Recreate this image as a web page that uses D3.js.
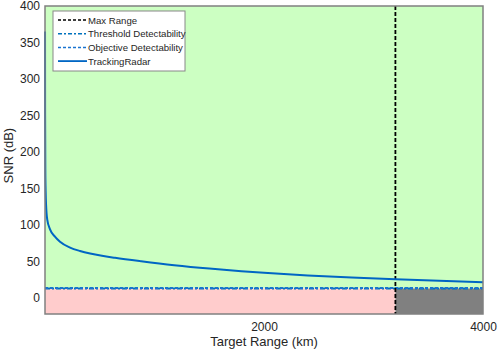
<!DOCTYPE html>
<html>
<head>
<meta charset="utf-8">
<script src="https://cdn.jsdelivr.net/npm/d3@7"></script>
<style>
  body { margin: 0; background: #fff; }
  svg text { font-family: "Liberation Sans", Arial, sans-serif; fill: #262626; }
</style>
</head>
<body>
<div id="chart"></div>
<script>
// values
const rangeKm = [0.2, 1, 3, 6, 10, 21, 46, 91, 137, 229, 320, 412, 520, 640, 878, 1180, 1500, 1794, 2000, 2400, 2800, 3200, 3600, 4000];
const snrDb = [365, 250, 175, 145, 127, 107, 94, 84, 77, 69, 64.3, 60.8, 57.7, 55, 50.3, 44.9, 40.2, 36.6, 34.4, 30.9, 28, 25.6, 23.5, 21.6];
const maxRange = 3200;
const thresholdSnr = 13;
const objectiveSnr = 13.5;
const xTicks = [2000, 4000];
const yTicks = [0, 50, 100, 150, 200, 250, 300, 350, 400];
const legendNames = ["Max Range", "Threshold Detectability", "Objective Detectability", "TrackingRadar"];

const width = 500, height = 351;
const margin = { top: 6, right: 17, bottom: 37, left: 45 };
const w = width - margin.left - margin.right;
const h = height - margin.top - margin.bottom;

const svg = d3.select("#chart")
  .append("svg")
  .attr("width", width)
  .attr("height", height);

const g = svg.append("g")
  .attr("transform", `translate(${margin.left},${margin.top})`);

const x = d3.scaleLinear().domain([0, 4000]).range([0, w]);
const y = d3.scaleLinear().domain([-22, 400]).range([h, 0]);

// background regions
g.append("rect")
  .attr("x", 0).attr("y", 0)
  .attr("width", w).attr("height", y(thresholdSnr))
  .attr("fill", "#ccffc2");
g.append("rect")
  .attr("x", 0).attr("y", y(thresholdSnr))
  .attr("width", x(maxRange)).attr("height", h - y(thresholdSnr))
  .attr("fill", "#ffcccc");
g.append("rect")
  .attr("x", x(maxRange)).attr("y", y(thresholdSnr))
  .attr("width", w - x(maxRange)).attr("height", h - y(thresholdSnr))
  .attr("fill", "#808080");

// horizontal detectability lines
g.append("line")
  .attr("x1", 0).attr("x2", w)
  .attr("y1", y(thresholdSnr)).attr("y2", y(thresholdSnr))
  .attr("stroke", "#0072bd").attr("stroke-width", 2)
  .attr("stroke-dasharray", "5,2,2,2");
g.append("line")
  .attr("x1", 0).attr("x2", w)
  .attr("y1", y(objectiveSnr)).attr("y2", y(objectiveSnr))
  .attr("stroke", "#1a74d0").attr("stroke-width", 2)
  .attr("stroke-dasharray", "3,2");

// max range line
g.append("line")
  .attr("x1", x(maxRange)).attr("x2", x(maxRange))
  .attr("y1", 0).attr("y2", h)
  .attr("stroke", "#000").attr("stroke-width", 1.8)
  .attr("stroke-dasharray", "4,2");

// SNR curve
const pts = rangeKm.map((r, i) => [r, snrDb[i]]);
g.append("path")
  .datum(pts)
  .attr("fill", "none")
  .attr("stroke", "#0066c4")
  .attr("stroke-width", 2)
  .attr("d", d3.line().x(d => x(d[0])).y(d => y(d[1])).curve(d3.curveMonotoneX));

// axes
const xAxis = g.append("g")
  .attr("transform", `translate(0,${h})`)
  .call(d3.axisBottom(x).tickValues(xTicks).tickFormat(d3.format("d")).tickSize(0).tickPadding(8));
const yAxis = g.append("g")
  .call(d3.axisLeft(y).tickValues(yTicks).tickFormat(d3.format("d")).tickSize(0).tickPadding(5));
[xAxis, yAxis].forEach(a => {
  a.select(".domain").remove();
  a.selectAll("text").attr("font-size", 12).attr("fill", "#262626");
});

// plot box
g.append("rect")
  .attr("width", w).attr("height", h)
  .attr("fill", "none")
  .attr("stroke", "#808080").attr("stroke-width", 1.5);

// axis titles
svg.append("text")
  .attr("x", margin.left + w / 2).attr("y", 346)
  .attr("text-anchor", "middle").attr("font-size", 13)
  .text("Target Range (km)");
svg.append("text")
  .attr("transform", `translate(13,${margin.top + y(195)}) rotate(-90)`)
  .attr("text-anchor", "middle").attr("font-size", 13)
  .text("SNR (dB)");

// legend
const leg = svg.append("g").attr("transform", "translate(53,11)");
leg.append("rect")
  .attr("width", 132).attr("height", 60)
  .attr("fill", "#fff").attr("stroke", "#888").attr("stroke-width", 1);
const legStyles = [
  { color: "#000", dash: "3,2", width: 1.5 },
  { color: "#0072bd", dash: "4,2,2,2", width: 1.5 },
  { color: "#1a74d0", dash: "3,2", width: 1.5 },
  { color: "#0066c4", dash: null, width: 1.8 }
];
legendNames.forEach((name, i) => {
  const yy = 9 + i * 13.7;
  leg.append("line")
    .attr("x1", 5).attr("x2", 34)
    .attr("y1", yy).attr("y2", yy)
    .attr("stroke", legStyles[i].color)
    .attr("stroke-width", legStyles[i].width)
    .attr("stroke-dasharray", legStyles[i].dash);
  leg.append("text")
    .attr("x", 35).attr("y", yy + 3.5)
    .attr("font-size", 9.6)
    .text(name);
});
</script>
</body>
</html>
